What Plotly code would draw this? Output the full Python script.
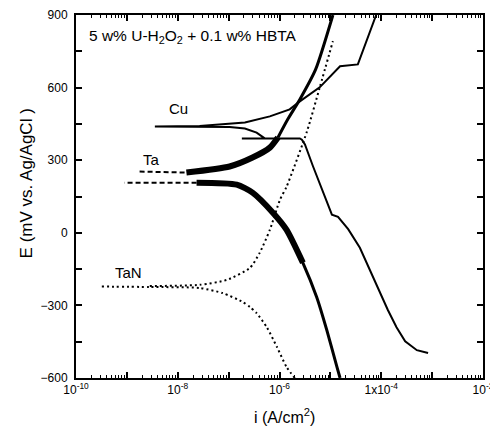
import numpy as np
import plotly.graph_objects as go

# ---------------- data (log10 of current density in A/cm2, potential in mV) -------------
cu_logi = [-3.08, -3.30, -3.53, -3.70, -3.87, -4.15, -4.42, -4.65, -4.85, -4.97, -5.07, -5.17,
           -5.34, -5.50, -5.56, -5.60,
           -6.74, -6.29, -6.45, -6.68, -6.98, -8.45, -7.57, -6.68, -6.19, -5.80,
           -5.60, -5.21, -4.81, -4.46, -4.10]
cu_E = [-497, -485, -448, -390, -319, -190, -62, 15, 66, 75, 128, 178,
        274, 365, 385, 390,
        390, 390, 414, 431, 437, 439, 441, 456, 481, 510,
        543, 601, 688, 696, 900]

ta_cath_logi = [-4.81, -4.87, -5.07, -5.27, -5.54, -5.86, -6.13, -6.53, -6.84, -7.63, -9.05]
ta_cath_E = [-600, -555, -402, -265, -124, 12, 83, 166, 199, 207, 207]
ta_anod_logi = [-8.75, -7.83, -6.98, -6.53, -6.19, -6.03, -5.84, -5.60, -5.29, -4.95]
ta_anod_E = [253, 249, 274, 311, 352, 394, 468, 551, 675, 900]

tan_cath_logi = [-5.70, -5.86, -6.05, -6.25, -6.45, -6.58, -6.72, -7.12, -7.57, -8.55, -9.54]
tan_cath_E = [-600, -555, -472, -390, -332, -307, -286, -249, -228, -224, -222]
tan_anod_logi = [-8.55, -7.57, -7.04, -6.58, -6.39, -6.19, -5.99, -5.86, -5.46, -5.21, -4.95]
tan_anod_E = [-220, -215, -195, -145, -83, 12, 137, 191, 419, 600, 792]

x_major = [-10, -9, -8, -7, -6, -5, -4, -3, -2]
x_labels = ["10<sup>-10</sup>", "", "10<sup>-8</sup>", "", "10<sup>-6</sup>", "",
            "1x10<sup>-4</sup>", "", "10<sup>-2</sup>"]
y_ticks = [-600, -300, 0, 300, 600, 900]

title_text = "5 w% U-H<sub>2</sub>O<sub>2</sub> + 0.1 w% HBTA"
curve_labels = ["Cu", "Ta", "TaN"]
label_logi = [-7.98, -8.51, -8.97]
label_E = [514, 302, -162]

FONT = "Arial, Liberation Sans, sans-serif"

def cur(v):
    return [10 ** a for a in v]

fig = go.Figure()

# Cu: solid
fig.add_trace(go.Scatter(x=cur(cu_logi), y=cu_E, mode="lines",
                         line=dict(color="black", width=2), hoverinfo="skip"))

# Ta: thick band in middle, thinner ends, dashed spikes near Ecorr
tcl = np.array(ta_cath_logi); tce = np.array(ta_cath_E)
tal = np.array(ta_anod_logi); tae = np.array(ta_anod_E)

def seg(l, e, lo, hi):
    m = (l >= lo) & (l <= hi)
    return list(10 ** l[m]), list(e[m])

for l, e, lo, hi in [(tcl, tce, -5.9, -4.0), (tal, tae, -6.1, -4.0)]:
    xs, ys = seg(l, e, lo, hi)
    fig.add_trace(go.Scatter(x=xs, y=ys, mode="lines", line_shape="spline",
                             line=dict(color="black", width=3, smoothing=0.6),
                             hoverinfo="skip"))
for l, e, lo, hi in [(tcl, tce, -7.7, -5.5), (tal, tae, -7.9, -6.0)]:
    xs, ys = seg(l, e, lo, hi)
    fig.add_trace(go.Scatter(x=xs, y=ys, mode="lines", line_shape="spline",
                             line=dict(color="black", width=6, smoothing=0.6),
                             hoverinfo="skip"))
for l, e, lo, hi in [(tcl, tce, -9.1, -7.6), (tal, tae, -8.8, -7.8)]:
    xs, ys = seg(l, e, lo, hi)
    fig.add_trace(go.Scatter(x=xs, y=ys, mode="lines",
                             line=dict(color="black", width=2, dash="5px,3px"),
                             hoverinfo="skip"))

# TaN: dotted
for lx, ly in [(tan_cath_logi, tan_cath_E), (tan_anod_logi, tan_anod_E)]:
    fig.add_trace(go.Scatter(x=cur(lx), y=ly, mode="lines", line_shape="spline",
                             line=dict(color="black", width=2, dash="2px,3px", smoothing=0.6),
                             hoverinfo="skip"))

# minor x ticks via an overlaid axis
minor_vals = []
for d in range(-10, -2):
    for k in range(2, 10):
        minor_vals.append(k * 10.0 ** d)
fig.add_trace(go.Scatter(x=[1e-10, 1e-2], y=[0, 0], xaxis="x2", mode="lines",
                         line=dict(width=0), hoverinfo="skip", showlegend=False))

annotations = [
    dict(text=title_text, xref="paper", yref="paper", x=0.026, y=0.94,
         xanchor="left", yanchor="middle", showarrow=False,
         font=dict(family=FONT, size=15.5, color="black")),
    dict(text="E (mV vs. Ag/AgCl )", xref="paper", yref="paper", x=-0.122, y=0.537,
         textangle=-90, showarrow=False, xanchor="center", yanchor="middle",
         font=dict(family=FONT, size=17, color="black")),
    dict(text="i (A/cm<sup>2</sup>)", xref="paper", yref="paper", x=0.512, y=-0.105,
         showarrow=False, xanchor="center", yanchor="middle",
         font=dict(family=FONT, size=16, color="black")),
]
for t, lx, ly in zip(curve_labels, label_logi, label_E):
    annotations.append(dict(text=t, x=lx, y=ly, xref="x", yref="y", showarrow=False,
                            font=dict(family=FONT, size=15, color="black")))

axis_common = dict(showgrid=False, zeroline=False, showline=True, linecolor="black",
                   linewidth=2, ticks="inside", tickcolor="black", mirror="allticks",
                   automargin=False)

fig.update_layout(
    width=490, height=427, margin=dict(l=76, r=7, t=15, b=49, autoexpand=False),
    paper_bgcolor="white", plot_bgcolor="white", showlegend=False,
    font=dict(family=FONT, size=12, color="black"),
    xaxis=dict(type="log", range=[-10, -2], tickvals=[10.0 ** v for v in x_major],
               ticktext=x_labels, ticklen=6, tickwidth=1.5, ticklabeloverflow="allow",
               tickfont=dict(family=FONT, size=12), **axis_common),
    xaxis2=dict(type="log", range=[-10, -2], overlaying="x", matches="x",
                tickvals=minor_vals, ticks="inside", ticklen=3, tickwidth=1,
                tickcolor="black", showticklabels=False, showgrid=False,
                zeroline=False, showline=False, side="bottom", mirror="allticks",
                automargin=False),
    yaxis=dict(range=[-600, 900], tickvals=y_ticks, ticklen=6, tickwidth=1.5,
               ticklabelstandoff=4,
               tickfont=dict(family=FONT, size=12),
               minor=dict(ticks="inside", dtick=150, ticklen=3, tickcolor="black"),
               **axis_common),
    annotations=annotations,
)

fig.write_html("out.html", config={"displayModeBar": False},
               post_script="document.body.style.margin='0px';")
